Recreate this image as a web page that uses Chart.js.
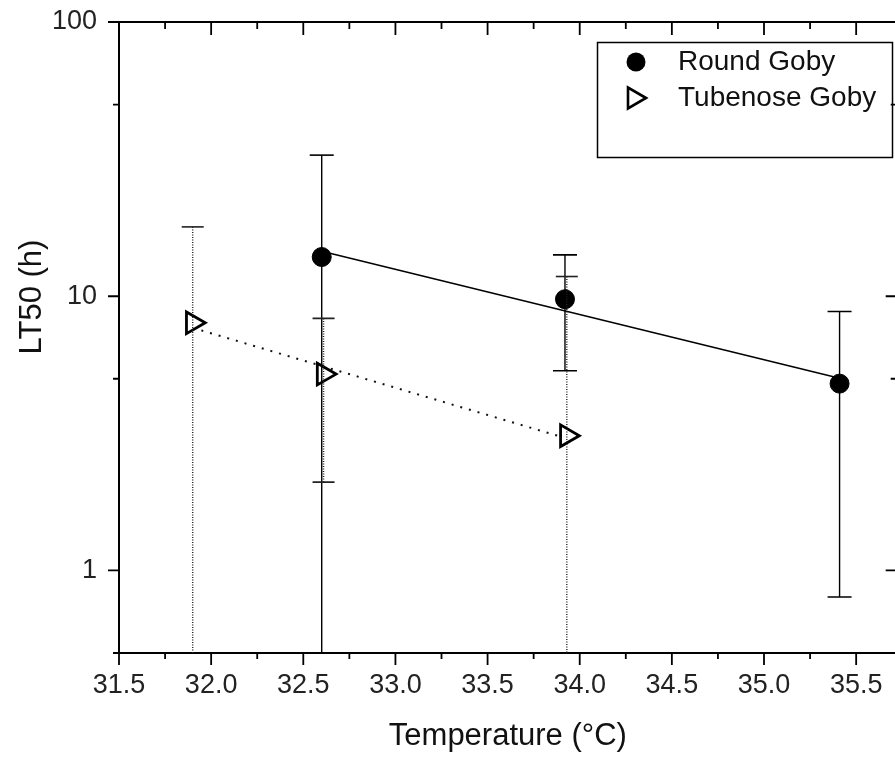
<!DOCTYPE html>
<html>
<head>
<meta charset="utf-8">
<script src="https://cdn.jsdelivr.net/npm/chart.js@4/dist/chart.umd.min.js"></script>
<style>
  html, body { margin: 0; padding: 0; background: #fff; overflow: hidden; }
</style>
</head>
<body>
<canvas id="myChart" width="912" height="761"></canvas>
<script>
// values
var rgTemp = [32.6, 33.92, 35.41];
var rgLT50 = [13.9, 9.75, 4.8];
var rgErr = [18.8, 4.4, 4.0];

var tgTemp = [31.9, 32.61, 33.93];
var tgLT50 = [8.0, 5.2, 3.1];
var tgErr = [9.9, 3.1, 8.7];

// end points of the fitted lines
var rgFitTemp = [32.6, 35.41];
var rgFitLT50 = [14.6, 5.02];
var tgFitTemp = [31.9, 33.93];
var tgFitLT50 = [7.67, 3.03];

var xMajor = [31.5, 32.0, 32.5, 33.0, 33.5, 34.0, 34.5, 35.0, 35.5];
var xMinor = [31.75, 32.25, 32.75, 33.25, 33.75, 34.25, 34.75, 35.25];
var yMajor = [1, 10, 100];
var yMinor = [0.5, 5, 50];

var FONT = "'Liberation Sans', Arial, sans-serif";

function pts(xs, ys) {
  return xs.map(function (x, i) { return {x: x, y: ys[i]}; });
}

// error bars, drawn through the scales
var errorBars = {
  id: 'errorBars',
  afterDatasetsDraw: function (chart) {
    var ctx = chart.ctx, xs = chart.scales.x, ys = chart.scales.y;
    var area = chart.chartArea;
    var sets = [
      {x: rgTemp, y: rgLT50, e: rgErr, dash: [], color: '#000', cap: 12},
      {x: tgTemp, y: tgLT50, e: tgErr, dash: [1, 1.5], color: '#222', cap: 11}
    ];
    ctx.save();
    sets.forEach(function (s) {
      s.x.forEach(function (xv, i) {
        var px = xs.getPixelForValue(xv);
        var hi = s.y[i] + s.e[i], lo = s.y[i] - s.e[i];
        var pHi = ys.getPixelForValue(hi);
        var pLo = lo > 0 ? ys.getPixelForValue(lo) : area.bottom;
        if (pLo > area.bottom) pLo = area.bottom;
        ctx.strokeStyle = s.color;
        ctx.lineWidth = 1.4;
        ctx.setLineDash(s.dash);
        ctx.beginPath();
        ctx.moveTo(px, pHi);
        ctx.lineTo(px, pLo);
        ctx.stroke();
        ctx.setLineDash([]);
        ctx.lineWidth = 1.6;
        ctx.beginPath();
        ctx.moveTo(px - s.cap, pHi);
        ctx.lineTo(px + s.cap, pHi);
        if (lo > 0 && ys.getPixelForValue(lo) <= area.bottom) {
          ctx.moveTo(px - s.cap, pLo);
          ctx.lineTo(px + s.cap, pLo);
        }
        ctx.stroke();
      });
    });
    ctx.restore();
  }
};

// frame, tick marks, y title and legend
var frame = {
  id: 'frame',
  afterDraw: function (chart) {
    var ctx = chart.ctx, xs = chart.scales.x, ys = chart.scales.y;
    var a = chart.chartArea;
    ctx.save();
    ctx.strokeStyle = '#000';
    ctx.lineWidth = 2;
    ctx.beginPath();
    ctx.moveTo(a.left, a.top); ctx.lineTo(a.right, a.top);
    ctx.moveTo(a.right, a.top); ctx.lineTo(a.right, a.bottom);
    ctx.stroke();

    ctx.lineWidth = 1.8;
    ctx.beginPath();
    xMajor.forEach(function (v) {
      var p = xs.getPixelForValue(v);
      ctx.moveTo(p, a.bottom); ctx.lineTo(p, a.bottom + 12);
      ctx.moveTo(p, a.top); ctx.lineTo(p, a.top + 13);
    });
    xMinor.forEach(function (v) {
      var p = xs.getPixelForValue(v);
      ctx.moveTo(p, a.bottom); ctx.lineTo(p, a.bottom + 6);
      ctx.moveTo(p, a.top); ctx.lineTo(p, a.top + 7);
    });
    yMajor.forEach(function (v) {
      var p = ys.getPixelForValue(v);
      ctx.moveTo(a.left, p); ctx.lineTo(a.left - 11, p);
      ctx.moveTo(a.right, p); ctx.lineTo(a.right - 11, p);
    });
    yMinor.forEach(function (v) {
      var p = ys.getPixelForValue(v);
      ctx.moveTo(a.left, p); ctx.lineTo(a.left - 6, p);
      ctx.moveTo(a.right, p); ctx.lineTo(a.right - 6, p);
    });
    ctx.stroke();

    // y axis title
    ctx.fillStyle = '#111';
    ctx.font = '31px ' + FONT;
    ctx.textAlign = 'center';
    ctx.textBaseline = 'middle';
    ctx.translate(32, 297);
    ctx.rotate(-Math.PI / 2);
    ctx.fillText('LT50 (h)', 0, 0);
    ctx.setTransform(1, 0, 0, 1, 0, 0);

    // legend box
    ctx.lineWidth = 1.5;
    ctx.strokeRect(597.5, 42.5, 295, 115);
    ctx.font = '28px ' + FONT;
    ctx.textAlign = 'left';
    ctx.fillStyle = '#111';
    ctx.fillText(chart.data.datasets[0].label, 678, 62);
    ctx.fillText(chart.data.datasets[1].label, 678, 98);
    ctx.fillStyle = '#000';
    ctx.beginPath();
    ctx.arc(636, 62, 9.5, 0, Math.PI * 2);
    ctx.fill();
    ctx.lineWidth = 2.6;
    var r = 12, cx = 634, cy = 98;
    ctx.beginPath();
    ctx.moveTo(cx + r, cy);
    ctx.lineTo(cx - r / 2, cy - r * 0.866);
    ctx.lineTo(cx - r / 2, cy + r * 0.866);
    ctx.closePath();
    ctx.stroke();
    ctx.restore();
  }
};

var ctx = document.getElementById('myChart').getContext('2d');
var myChart = new Chart(ctx, {
  type: 'scatter',
  data: {
    datasets: [{
      label: 'Round Goby',
      data: pts(rgTemp, rgLT50),
      pointStyle: 'circle',
      pointRadius: 9.5,
      backgroundColor: '#000',
      borderColor: '#000',
      borderWidth: 1,
      showLine: false
    }, {
      label: 'Tubenose Goby',
      data: pts(tgTemp, tgLT50),
      pointStyle: 'triangle',
      pointRotation: 90,
      pointRadius: 12.5,
      backgroundColor: '#fff',
      borderColor: '#000',
      pointBorderWidth: 2.8,
      showLine: false
    }, {
      label: 'Round Goby fit',
      data: pts(rgFitTemp, rgFitLT50),
      pointRadius: 0,
      showLine: true,
      borderColor: '#000',
      borderWidth: 1.5
    }, {
      label: 'Tubenose Goby fit',
      data: pts(tgFitTemp, tgFitLT50),
      pointRadius: 0,
      showLine: true,
      borderColor: '#111',
      borderWidth: 2,
      borderDash: [2, 7]
    }]
  },
  options: {
    responsive: false,
    animation: false,
    devicePixelRatio: 1,
    layout: { padding: { left: 0, top: 22, right: 3, bottom: 0 } },
    plugins: {
      legend: { display: false },
      tooltip: { enabled: false }
    },
    scales: {
      x: {
        type: 'linear',
        min: 31.5,
        max: 35.72,
        afterBuildTicks: function (scale) {
          scale.ticks = xMajor.map(function (v) { return {value: v}; });
        },
        afterFit: function (scale) {
          scale.height = 108;
          scale.paddingLeft = 0;
          scale.paddingRight = 0;
        },
        grid: { display: false, drawTicks: false },
        border: { display: true, color: '#000', width: 2 },
        ticks: {
          color: '#222',
          font: { size: 27, family: FONT },
          padding: 16,
          maxRotation: 0,
          callback: function (v) { return v.toFixed(1); }
        },
        title: {
          display: true,
          text: 'Temperature (°C)',
          color: '#111',
          font: { size: 31, family: FONT },
          padding: { top: 4, bottom: 6 }
        }
      },
      y: {
        type: 'logarithmic',
        min: 0.5,
        max: 100,
        afterBuildTicks: function (scale) {
          scale.ticks = yMajor.map(function (v) { return {value: v}; });
        },
        afterFit: function (scale) {
          scale.width = 119;
          scale.paddingTop = 0;
          scale.paddingBottom = 0;
        },
        grid: { display: false, drawTicks: false },
        border: { display: true, color: '#000', width: 2 },
        ticks: {
          color: '#222',
          font: { size: 27, family: FONT },
          padding: 22,
          callback: function (v) { return String(v); }
        }
      }
    }
  },
  plugins: [errorBars, frame]
});
</script>
</body>
</html>
